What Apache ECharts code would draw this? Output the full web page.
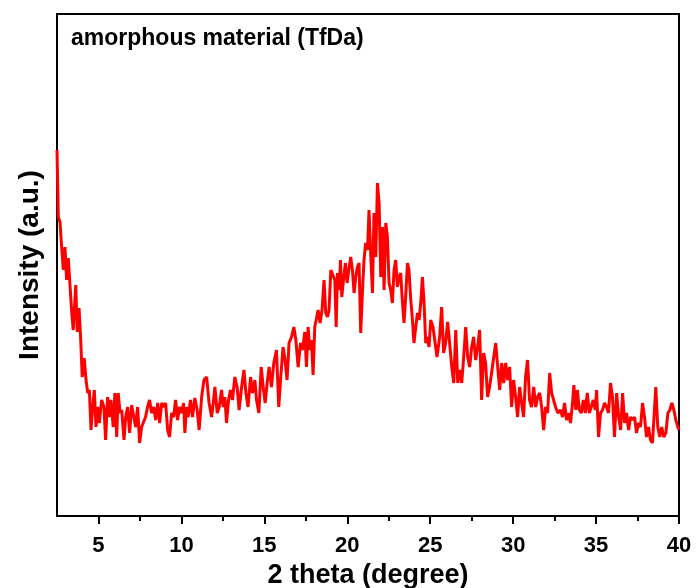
<!DOCTYPE html>
<html>
<head>
<meta charset="utf-8">
<script src="https://cdn.jsdelivr.net/npm/echarts@6/dist/echarts.min.js"></script>
<style>html,body{margin:0;padding:0;background:#fff;}#c{width:697px;height:588px;}</style>
</head>
<body>
<div id="c"></div>
<script>
var theta = [2.50,2.58,2.68,2.78,2.88,2.98,3.08,3.18,3.28,3.39,3.48,3.63,3.72,3.83,3.93,4.02,4.14,4.25,4.35,4.45,4.55,4.65,4.75,4.85,4.95,5.05,5.19,5.33,5.43,5.55,5.65,5.75,5.89,5.99,6.10,6.19,6.30,6.40,6.54,6.64,6.76,6.88,7.00,7.12,7.24,7.36,7.48,7.60,7.72,7.84,7.96,8.08,8.20,8.33,8.45,8.57,8.69,8.81,8.93,9.05,9.17,9.29,9.41,9.53,9.65,9.77,9.89,10.01,10.13,
10.21,10.31,10.41,10.55,10.67,10.81,10.95,11.07,11.22,11.36,11.52,11.67,11.82,11.92,12.02,12.16,12.28,12.42,12.52,12.62,12.72,12.84,12.96,13.08,13.22,13.36,13.48,13.63,13.77,13.89,14.02,14.17,14.29,14.43,14.53,14.67,14.81,14.93,15.05,15.17,15.29,15.43,15.57,15.73,15.87,15.99,16.13,16.25,16.37,16.49,16.64,16.78,16.90,17.04,17.18,17.30,
17.44,17.54,17.64,17.74,17.84,17.94,18.04,18.16,18.24,18.36,18.48,18.60,18.70,18.81,18.90,19.01,19.13,19.25,19.33,19.41,19.51,19.59,19.67,19.77,19.89,19.99,20.09,20.21,20.31,20.41,20.51,20.61,20.71,20.81,20.92,21.01,21.11,21.22,21.31,21.42,21.52,21.61,21.72,21.82,21.92,22.02,22.12,22.22,22.32,22.42,22.52,22.62,22.72,22.82,22.92,23.02,23.12,23.22,23.33,23.42,23.52,23.63,23.72,23.83,23.93,24.02,24.13,24.23,24.33,24.43,24.53,24.63,24.73,24.83,24.93,
25.03,25.17,25.27,25.41,25.57,25.69,25.81,25.93,26.05,26.17,26.30,26.42,26.54,26.66,26.78,26.90,27.02,27.14,27.26,27.38,27.50,27.62,27.74,27.86,27.98,28.10,28.22,28.34,28.46,28.58,28.70,28.83,28.95,29.07,29.19,29.31,29.43,29.55,29.67,29.79,29.91,30.03,30.15,30.27,30.39,30.51,30.63,30.75,30.87,30.99,31.11,31.24,31.36,31.48,31.60,31.72,31.84,31.96,32.08,32.20,32.32,32.44,32.56,32.70,
32.86,32.98,33.10,33.22,33.34,33.46,33.58,33.66,33.78,33.87,33.99,34.11,34.23,34.35,34.47,34.59,34.71,34.83,34.95,35.03,35.15,35.27,35.39,35.51,35.63,35.75,35.87,35.99,36.11,36.24,36.36,36.48,36.60,36.72,36.84,36.96,37.08,37.20,37.32,37.44,37.56,37.68,37.80,37.92,38.04,38.16,38.28,38.40,38.52,38.60,38.72,38.84,38.96,39.08,39.21,39.33,39.45,39.57,39.69,39.81,39.93,40.00];

var intensity = [366,299,294,269,246,269,236,258,256,203,186,231,184,208,176,139,158,136,123,126,86,109,126,89,109,93,116,109,76,119,99,116,89,123,79,123,103,106,76,99,109,83,111,113,89,109,73,89,89,99,109,116,103,109,96,113,93,113,109,113,86,79,103,99,116,96,109,103,113,
83,109,99,116,99,118,106,86,119,136,139,113,99,113,129,103,109,126,109,119,93,116,126,116,139,129,106,129,146,123,109,139,123,136,116,103,149,129,113,133,149,129,153,166,109,139,169,156,136,173,179,189,176,149,173,166,
184,149,189,166,176,141,189,199,206,193,206,236,203,199,206,246,246,236,189,243,226,256,219,236,253,233,246,259,246,223,239,249,253,183,226,256,273,266,306,259,223,303,259,333,313,239,289,226,293,279,233,226,213,246,256,229,239,243,213,193,219,253,246,216,196,173,189,203,196,213,239,213,173,179,169,
196,189,189,159,179,209,163,173,194,173,149,133,186,133,146,133,159,189,159,149,169,179,156,169,186,116,163,153,119,129,143,159,173,149,126,153,133,153,136,149,109,136,119,99,129,113,99,139,156,116,109,129,109,119,123,109,86,109,103,143,123,116,109,103,
106,99,113,96,103,93,113,131,106,126,106,103,116,103,123,103,109,116,106,126,79,103,106,113,109,103,133,119,79,123,99,86,123,93,103,86,99,96,99,83,93,89,113,99,79,89,76,73,106,129,89,79,89,79,83,103,106,113,106,96,89,86];

var xMajor = [5,10,15,20,25,30,35,40];
var xMinor = [7.5,12.5,17.5,22.5,27.5,32.5,37.5];

var data = theta.map(function (t, i) { return [t, intensity[i]]; });

var chart = echarts.init(document.getElementById('c'), null, {renderer: 'canvas'});
var font = 'Liberation Sans, Arial, sans-serif';
chart.setOption({
  animation: false,
  backgroundColor: '#fff',
  grid: {left: 57, right: 18, top: 14, bottom: 72, show: true, borderColor: '#000', borderWidth: 2,
         backgroundColor: 'transparent', containLabel: false, outerBoundsMode: 'none'},
  graphic: [{
    type: 'text', left: 71, top: 27,
    style: {text: 'amorphous material (TfDa)', font: 'bold 23px ' + font, fill: '#000'}
  }],
  xAxis: [{
    type: 'value', min: 2.5, max: 40, interval: 2.5, position: 'bottom',
    name: '2 theta (degree)', nameLocation: 'middle', nameGap: 42,
    nameTextStyle: {fontFamily: font, fontWeight: 'bold', fontSize: 27, color: '#000'},
    axisLine: {show: true, onZero: false, lineStyle: {color: '#000', width: 2}},
    axisTick: {show: true, length: 8, customValues: xMajor, lineStyle: {color: '#000', width: 2}},
    axisLabel: {show: true, customValues: xMajor, margin: 19, fontFamily: font, fontWeight: 'bold', fontSize: 22, color: '#000'},
    splitLine: {show: false}
  }, {
    type: 'value', min: 2.5, max: 40, interval: 2.5, position: 'bottom', offset: 0,
    axisLine: {show: false},
    axisTick: {show: true, length: 5, customValues: xMinor, lineStyle: {color: '#000', width: 2}},
    axisLabel: {show: false},
    splitLine: {show: false}
  }],
  yAxis: {
    type: 'value', min: 0, max: 502,
    name: 'Intensity (a.u.)', nameLocation: 'middle', nameGap: 13, nameRotate: 90,
    nameTextStyle: {fontFamily: font, fontWeight: 'bold', fontSize: 28, color: '#000'},
    axisLine: {show: true, lineStyle: {color: '#000', width: 2}},
    axisTick: {show: false}, axisLabel: {show: false}, splitLine: {show: false}
  },
  series: [{
    type: 'line', data: data, xAxisIndex: 0, showSymbol: false, symbol: 'none',
    lineStyle: {color: '#ff0000', width: 3}, clip: true
  }]
});
</script>
</body>
</html>
